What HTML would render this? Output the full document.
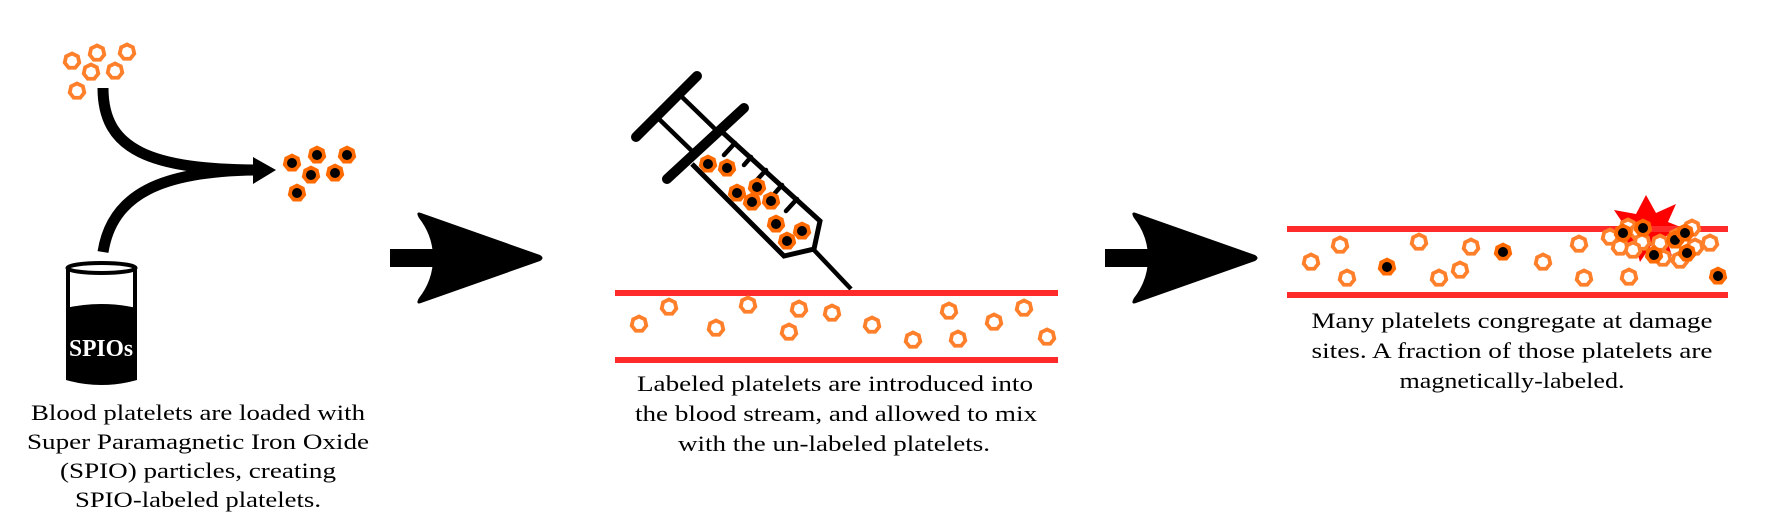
<!DOCTYPE html>
<html><head><meta charset="utf-8"><style>
html,body{margin:0;padding:0;background:#fff;}
svg{display:block;}
</style></head><body>
<svg width="1772" height="532" viewBox="0 0 1772 532" xmlns="http://www.w3.org/2000/svg">
<defs>
<polygon id="op" points="0,-7.5 5.86,-4.68 7.31,1.67 3.25,6.76 -3.25,6.76 -7.31,1.67 -5.86,-4.68" fill="#fff" stroke="#ff7f2a" stroke-width="3.8"/>
<g id="lp"><polygon points="0,-9.5 7.43,-5.92 9.26,2.11 4.12,8.56 -4.12,8.56 -9.26,2.11 -7.43,-5.92" fill="#ff6a00"/><circle r="5" fill="#000"/></g>
<path id="arr" d="M390,249 H434 V267 H390 Z M421,213 L540,255 Q545,258 540,261 L421,303 Q415,305 419,298 Q433,280 433,258 Q433,236 419,218 Q415,211 421,213 Z" fill="#000"/>
</defs>

<!-- Panel 1 -->
<use href="#op" x="72" y="61"/><use href="#op" x="97" y="53"/><use href="#op" x="127" y="52"/>
<use href="#op" x="91" y="72"/><use href="#op" x="115" y="71"/><use href="#op" x="77" y="91"/>
<path d="M103,88 C103,150 150,170 262,170" fill="none" stroke="#000" stroke-width="11"/>
<path d="M103,252 C112,195 160,170 262,170" fill="none" stroke="#000" stroke-width="11"/>
<polygon points="253,157 276,170 253,184" fill="#000"/>
<use href="#lp" x="292" y="163"/><use href="#lp" x="317" y="155"/><use href="#lp" x="347" y="155"/>
<use href="#lp" x="311" y="175"/><use href="#lp" x="335" y="173"/><use href="#lp" x="297" y="193"/>
<!-- beaker -->
<path d="M66,308 Q101,300 137,308 V380 Q101,390 66,380 Z" fill="#000"/>
<line x1="68" y1="268" x2="68" y2="310" stroke="#000" stroke-width="4"/>
<line x1="135" y1="268" x2="135" y2="310" stroke="#000" stroke-width="4"/>
<ellipse cx="101.5" cy="268" rx="34" ry="5" fill="#fff" stroke="#000" stroke-width="4"/>

<g font-family="Liberation Serif, DejaVu Serif, serif" font-size="22" fill="#000">
<text x="101" y="356" text-anchor="middle" fill="#fff" font-weight="bold" font-size="24" textLength="64" lengthAdjust="spacingAndGlyphs">SPIOs</text>
<text x="198" y="420" text-anchor="middle" textLength="334" lengthAdjust="spacingAndGlyphs">Blood platelets are loaded with</text>
<text x="198" y="449" text-anchor="middle" textLength="342" lengthAdjust="spacingAndGlyphs">Super Paramagnetic Iron Oxide</text>
<text x="198" y="478" text-anchor="middle" textLength="276" lengthAdjust="spacingAndGlyphs">(SPIO) particles, creating</text>
<text x="198" y="507" text-anchor="middle" textLength="246" lengthAdjust="spacingAndGlyphs">SPIO-labeled platelets.</text>
<text x="835" y="391" text-anchor="middle" textLength="396" lengthAdjust="spacingAndGlyphs">Labeled platelets are introduced into</text>
<text x="836" y="421" text-anchor="middle" textLength="402" lengthAdjust="spacingAndGlyphs">the blood stream, and allowed to mix</text>
<text x="834" y="451" text-anchor="middle" textLength="312" lengthAdjust="spacingAndGlyphs">with the un-labeled platelets.</text>
<text x="1512" y="328" text-anchor="middle" textLength="401" lengthAdjust="spacingAndGlyphs">Many platelets congregate at damage</text>
<text x="1512" y="358" text-anchor="middle" textLength="401" lengthAdjust="spacingAndGlyphs">sites. A fraction of those platelets are</text>
<text x="1512" y="388" text-anchor="middle" textLength="225" lengthAdjust="spacingAndGlyphs">magnetically-labeled.</text>
</g>

<use href="#arr"/>
<use href="#arr" x="715"/>

<!-- Panel 2: syringe -->
<g stroke="#000" stroke-linecap="round" fill="none">
<line x1="636" y1="137" x2="697" y2="76" stroke-width="10"/>
<line x1="660" y1="120" x2="693" y2="152" stroke-width="4.5"/>
<line x1="682" y1="97" x2="714" y2="128" stroke-width="4.5"/>
<line x1="667" y1="179" x2="744" y2="108" stroke-width="10"/>
<path d="M720,130 L820,221 L814,249 L784,256 L692,164" stroke-width="5" stroke-linejoin="miter" stroke-linecap="butt"/>
<line x1="814" y1="250" x2="851" y2="289" stroke-width="4.5" stroke-linecap="butt"/>
<g stroke-width="4.5">
<line x1="735" y1="143" x2="724" y2="155"/>
<line x1="751" y1="157" x2="744" y2="165"/>
<line x1="766" y1="170" x2="755" y2="182"/>
<line x1="782" y1="185" x2="775" y2="193"/>
<line x1="797" y1="199" x2="786" y2="211"/>
</g>
</g>
<use href="#lp" x="708" y="164"/><use href="#lp" x="727" y="168"/><use href="#lp" x="737" y="193"/>
<use href="#lp" x="757" y="187"/><use href="#lp" x="752" y="202"/><use href="#lp" x="771" y="201"/>
<use href="#lp" x="776" y="224"/><use href="#lp" x="802" y="231"/><use href="#lp" x="787" y="241"/>
<!-- vessel 2 -->
<rect x="615" y="290" width="443" height="6" fill="#ff2a2a"/>
<rect x="615" y="357" width="443" height="6" fill="#ff2a2a"/>
<use href="#op" x="639" y="324"/><use href="#op" x="669" y="307"/><use href="#op" x="716" y="328"/>
<use href="#op" x="748" y="305"/><use href="#op" x="799" y="309"/><use href="#op" x="789" y="332"/>
<use href="#op" x="832" y="313"/><use href="#op" x="872" y="325"/><use href="#op" x="913" y="340"/>
<use href="#op" x="949" y="311"/><use href="#op" x="958" y="339"/><use href="#op" x="994" y="322"/>
<use href="#op" x="1024" y="308"/><use href="#op" x="1047" y="337"/>

<!-- Panel 3 -->
<polygon points="1646,195 1656,213 1676,204 1668,222 1688,230 1666,236 1672,256 1652,244 1640,262 1634,242 1614,244 1626,228 1614,210 1636,214" fill="#ff0000"/>
<rect x="1287" y="226" width="441" height="6" fill="#ff2a2a"/>
<rect x="1287" y="292" width="441" height="6" fill="#ff2a2a"/>
<use href="#op" x="1311" y="262"/><use href="#op" x="1340" y="245"/><use href="#op" x="1347" y="278"/>
<use href="#op" x="1419" y="242"/><use href="#op" x="1439" y="278"/><use href="#op" x="1460" y="270"/>
<use href="#op" x="1471" y="247"/><use href="#op" x="1543" y="262"/><use href="#op" x="1579" y="244"/>
<use href="#op" x="1584" y="278"/><use href="#op" x="1629" y="277"/>
<use href="#lp" x="1387" y="267"/><use href="#lp" x="1503" y="252"/><use href="#lp" x="1718" y="276"/>
<use href="#op" x="1610" y="237"/><use href="#op" x="1628" y="227"/><use href="#op" x="1620" y="247"/>
<use href="#op" x="1638" y="232"/><use href="#op" x="1642" y="242"/><use href="#op" x="1633" y="250"/>
<use href="#op" x="1660" y="243"/><use href="#op" x="1663" y="258"/><use href="#op" x="1677" y="237"/>
<use href="#op" x="1692" y="228"/><use href="#op" x="1695" y="247"/><use href="#op" x="1680" y="260"/>
<use href="#op" x="1710" y="243"/>
<use href="#lp" x="1623" y="233"/><use href="#lp" x="1643" y="228"/><use href="#lp" x="1654" y="255"/>
<use href="#lp" x="1675" y="240"/><use href="#lp" x="1685" y="233"/><use href="#lp" x="1687" y="253"/>
</svg>
</body></html>
